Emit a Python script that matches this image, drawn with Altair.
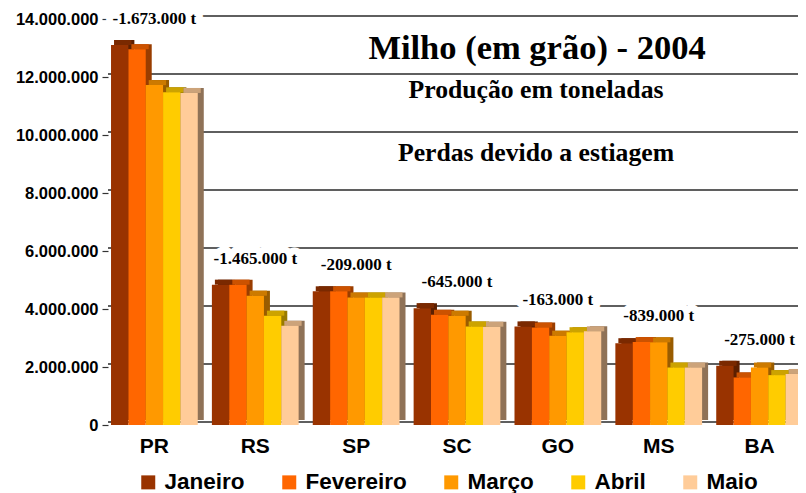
import altair as alt
import pandas as pd

# ---------------- data ----------------
states = ["PR", "RS", "SP", "SC", "GO", "MS", "BA"]
months = ["Janeiro", "Fevereiro", "Março", "Abril", "Maio"]
janeiro   = [13100000, 4840000, 4610000, 4030000, 3400000, 2820000, 2040000]
fevereiro = [12960000, 4840000, 4610000, 3800000, 3360000, 2860000, 1640000]
marco     = [11720000, 4460000, 4400000, 3770000, 3080000, 2850000, 1980000]
abril     = [11470000, 3770000, 4400000, 3400000, 3200000, 1980000, 1720000]
maio      = [11450000, 3420000, 4400000, 3390000, 3230000, 1980000, 1760000]
losses = ["-1.673.000 t", "-1.465.000 t", "-209.000 t", "-645.000 t",
          "-163.000 t", "-839.000 t", "-275.000 t"]
y_ticks = [0, 2000000, 4000000, 6000000, 8000000, 10000000, 12000000, 14000000]
title_main = "Milho (em grão) - 2004"
title_sub1 = "Produção em toneladas"
title_sub2 = "Perdas devido a estiagem"

# ---------------- styles ----------------
front_colors = ["#993300", "#FF6600", "#FF9900", "#FFCC00", "#FFCC99"]
top_colors   = ["#7A2900", "#CC5200", "#CC7A00", "#CCA300", "#CCA37A"]
side_colors  = ["#5C1F00", "#993D00", "#995C00", "#997A00", "#8F7257"]
SANS = "Liberation Sans"
SERIF = "Liberation Serif"

W, H = 698, 406
PI, PO = 0.14, 0.03
step = W / (len(states) - PI + 2 * PO)
bw = step * (1 - PI)
DX, DY = 6, 5

series = [janeiro, fevereiro, marco, abril, maio]
rows = []
for m, vals in zip(months, series):
    for s, v in zip(states, vals):
        rows.append({"state": s, "month": m, "value": v})
df = pd.DataFrame(rows)

ann = pd.DataFrame({
    "state": states,
    "label": losses,
    "top": [max(v[i] for v in series) for i in range(len(states))],
})

yscale = alt.Scale(domain=[0, 14000000], nice=False)
xscale = alt.Scale(domain=states, paddingInner=PI, paddingOuter=PO, round=False)

x_ax = alt.Axis(title=None, labelFont=SANS, labelFontSize=21, labelFontWeight="bold",
                labelColor="black", ticks=False, domain=False, labelPadding=10,
                labelAngle=0, grid=False)
y_ax = alt.Axis(title=None, values=y_ticks, grid=False, domain=False, tickSize=6,
                tickColor="#333333", tickWidth=1.2, labelFont=SANS, labelFontSize=16.5,
                labelFontWeight="bold", labelColor="black", labelPadding=4,
                labelExpr="replace(format(datum.value, ','), /,/g, '.')")


def X():
    return alt.X("state:N", sort=states, scale=xscale, axis=x_ax)


def Y(field):
    return alt.Y(field, scale=yscale, axis=y_ax)


base = alt.Chart(df)

grid = alt.Chart(pd.DataFrame({"tick": y_ticks})).mark_rule(
    yOffset=-3, color="#2a2a2a", strokeWidth=1.5
).encode(y=Y("tick:Q"))

halo = alt.Chart(ann).mark_text(
    dy=-26, font=SERIF, fontSize=17, fontWeight="bold", color="white",
    stroke="white", strokeWidth=14, strokeJoin="round"
).encode(x=X(), y=Y("top:Q"), text="label:N")

side = base.mark_bar(yOffset=-DY, y2Offset=-DY).encode(
    x=X(),
    xOffset=alt.XOffset("month:N", sort=months,
                        scale=alt.Scale(domain=months, range=[DX, bw + DX])),
    y=Y("value:Q"),
    color=alt.Color("month:N", scale=alt.Scale(domain=months, range=side_colors), legend=None),
)

top = base.mark_bar(yOffset=-DY, y2Offset=0).encode(
    x=X(),
    xOffset=alt.XOffset("month:N", sort=months,
                        scale=alt.Scale(domain=months, range=[DX / 2, bw + DX / 2])),
    y=Y("value:Q"),
    y2=alt.Y2("value:Q"),
    color=alt.Color("month:N", scale=alt.Scale(domain=months, range=top_colors), legend=None),
)

front = base.mark_bar().encode(
    x=X(),
    xOffset=alt.XOffset("month:N", sort=months,
                        scale=alt.Scale(domain=months, range=[0, bw])),
    y=Y("value:Q"),
    color=alt.Color(
        "month:N", sort=months, scale=alt.Scale(domain=months, range=front_colors),
        legend=alt.Legend(title=None, orient="none", legendX=29, legendY=452,
                          direction="horizontal", symbolType="square", symbolSize=196,
                          symbolStrokeWidth=0, labelFont=SANS, labelFontSize=22.5,
                          labelFontWeight="bold", labelColor="black", columnPadding=33,
                          labelOffset=5),
    ),
)

labels = alt.Chart(ann).mark_text(
    dy=-26, font=SERIF, fontSize=17, fontWeight="bold", color="black"
).encode(x=X(), y=Y("top:Q"), text="label:N")


def title_text(txt, size, xpx, ypx):
    return alt.Chart(pd.DataFrame({"t": [txt]})).mark_text(
        font=SERIF, fontSize=size, fontWeight="bold", color="black",
        align="center", baseline="alphabetic"
    ).encode(text="t:N", x=alt.value(xpx), y=alt.value(ypx))


t1 = title_text(title_main, 34.5, 429, 40)
t2 = title_text(title_sub1, 25.7, 428, 79)
t3 = title_text(title_sub2, 25.7, 428, 142)

chart = alt.layer(grid, halo, side, top, front, labels, t1, t2, t3).resolve_scale(
    xOffset="independent", color="independent"
).properties(
    width=W, height=H,
    padding={"left": 100, "top": 11, "right": -8, "bottom": 68},
    autosize=alt.AutoSizeParams(type="none"),
    background="white",
).configure_view(stroke=None)

chart.save("out.html", embed_options={"renderer": "svg", "actions": False})
